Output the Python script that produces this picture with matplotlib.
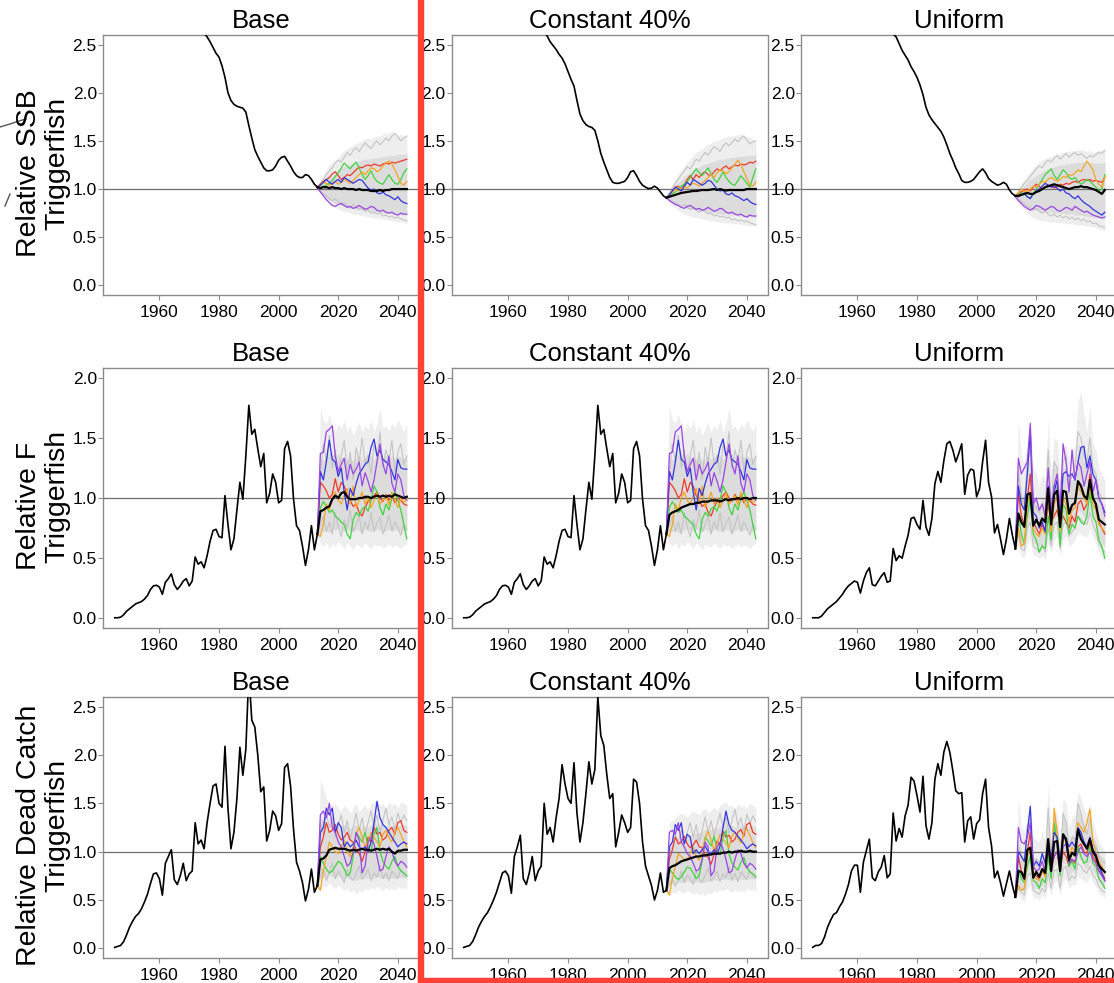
import matplotlib
matplotlib.use('Agg')
import matplotlib.pyplot as plt
from matplotlib import transforms
from matplotlib.lines import Line2D

plt.rcParams['font.family'] = ['Liberation Sans', 'DejaVu Sans']

# ---------------- axes / labels ----------------
hist_years = list(range(1945, 2014))
proj_years = list(range(2013, 2044))
col_titles = ['Base', 'Constant 40%', 'Uniform']
row_labels = [('Relative SSB', 'Triggerfish'),
              ('Relative F', 'Triggerfish'),
              ('Relative Dead Catch', 'Triggerfish')]
row_ylims = [(-0.1, 2.6), (-0.08, 2.08), (-0.1, 2.6)]
row_yticks = [[0, 0.5, 1.0, 1.5, 2.0, 2.5], [0, 0.5, 1.0, 1.5, 2.0], [0, 0.5, 1.0, 1.5, 2.0, 2.5]]
x_ticks = [1960, 1980, 2000, 2020, 2040]

# ---------------- SSB : Base ----------------
ssb_base_hist = [3.60, 3.58, 3.56, 3.54, 3.52, 3.50, 3.47, 3.44, 3.41, 3.38,
                 3.35, 3.31, 3.27, 3.23, 3.19, 3.15, 3.11, 3.07, 3.03, 2.99,
                 2.95, 2.91, 2.87, 2.83, 2.79, 2.76, 2.73, 2.70, 2.67, 2.64,
                 2.62, 2.58, 2.53, 2.47, 2.41, 2.37, 2.28, 2.16, 2.00, 1.92,
                 1.88, 1.86, 1.85, 1.84, 1.80, 1.66, 1.53, 1.41, 1.34, 1.28,
                 1.22, 1.19, 1.19, 1.20, 1.24, 1.30, 1.33, 1.34, 1.29, 1.24,
                 1.18, 1.14, 1.12, 1.12, 1.15, 1.14, 1.10, 1.05, 1.02]
ssb_base_med = [1.02, 1.01, 1.02, 1.02, 1.01, 1.02, 1.01, 1.01, 1.00, 1.01, 1.00, 1.00, 1.00, 0.99, 1.00, 0.99, 0.99, 0.99, 0.98, 0.98, 0.98, 0.99, 0.98, 0.99, 0.99, 1.00, 1.00, 1.00, 1.00, 1.00, 1.00]
ssb_base_red = [1.02, 1.05, 1.08, 1.10, 1.12, 1.16, 1.18, 1.14, 1.10, 1.12, 1.15, 1.14, 1.17, 1.20, 1.23, 1.22, 1.24, 1.25, 1.24, 1.26, 1.25, 1.24, 1.26, 1.27, 1.26, 1.28, 1.27, 1.28, 1.29, 1.30, 1.31]
ssb_base_green = [1.02, 1.02, 1.03, 1.04, 1.06, 1.09, 1.13, 1.17, 1.22, 1.27, 1.24, 1.21, 1.25, 1.28, 1.22, 1.15, 1.10, 1.14, 1.19, 1.12, 1.08, 1.06, 1.05, 1.10, 1.15, 1.10, 1.06, 1.05, 1.10, 1.17, 1.21]
ssb_base_orange = [1.02, 1.04, 1.07, 1.06, 1.04, 1.06, 1.08, 1.05, 1.07, 1.10, 1.08, 1.06, 1.09, 1.12, 1.15, 1.18, 1.15, 1.19, 1.22, 1.21, 1.18, 1.20, 1.24, 1.27, 1.29, 1.26, 1.20, 1.13, 1.06, 1.04, 1.08]
ssb_base_blue = [1.02, 1.04, 1.07, 1.10, 1.07, 1.05, 1.08, 1.10, 1.07, 1.12, 1.10, 1.08, 1.06, 1.08, 1.10, 1.09, 1.05, 1.01, 0.99, 1.00, 0.96, 0.95, 0.97, 0.94, 0.93, 0.91, 0.89, 0.92, 0.88, 0.86, 0.85]
ssb_base_purple = [1.01, 0.97, 0.93, 0.89, 0.86, 0.83, 0.82, 0.84, 0.85, 0.83, 0.81, 0.82, 0.80, 0.81, 0.83, 0.81, 0.79, 0.80, 0.82, 0.81, 0.78, 0.77, 0.78, 0.76, 0.75, 0.76, 0.74, 0.73, 0.75, 0.74, 0.74]
ssb_base_lo = [1.01, 0.96, 0.92, 0.89, 0.86, 0.83, 0.81, 0.79, 0.78, 0.77, 0.76, 0.75, 0.74, 0.74, 0.73, 0.72, 0.72, 0.71, 0.71, 0.70, 0.70, 0.69, 0.69, 0.68, 0.68, 0.67, 0.67, 0.66, 0.66, 0.65, 0.65]
ssb_base_hi = [1.03, 1.09, 1.15, 1.20, 1.25, 1.28, 1.30, 1.33, 1.37, 1.40, 1.42, 1.44, 1.46, 1.47, 1.49, 1.50, 1.52, 1.53, 1.52, 1.54, 1.55, 1.55, 1.57, 1.58, 1.58, 1.60, 1.58, 1.56, 1.57, 1.55, 1.56]
ssb_base_qlo = [1.01, 0.97, 0.94, 0.91, 0.89, 0.87, 0.85, 0.84, 0.83, 0.82, 0.81, 0.80, 0.80, 0.79, 0.79, 0.78, 0.78, 0.77, 0.77, 0.76, 0.76, 0.76, 0.75, 0.75, 0.75, 0.74, 0.74, 0.74, 0.73, 0.73, 0.73]
ssb_base_qhi = [1.03, 1.06, 1.09, 1.12, 1.14, 1.16, 1.18, 1.20, 1.22, 1.24, 1.25, 1.26, 1.27, 1.28, 1.29, 1.30, 1.31, 1.31, 1.32, 1.32, 1.33, 1.33, 1.34, 1.34, 1.35, 1.35, 1.35, 1.36, 1.36, 1.36, 1.37]
ssb_base_g1 = [1.02, 1.06, 1.10, 1.15, 1.19, 1.22, 1.27, 1.30, 1.28, 1.33, 1.38, 1.35, 1.40, 1.43, 1.39, 1.44, 1.48, 1.45, 1.42, 1.47, 1.50, 1.46, 1.49, 1.53, 1.50, 1.55, 1.58, 1.54, 1.50, 1.53, 1.55]
ssb_base_g2 = [1.01, 0.98, 0.95, 0.93, 0.90, 0.88, 0.90, 0.87, 0.85, 0.86, 0.83, 0.81, 0.84, 0.82, 0.79, 0.80, 0.77, 0.78, 0.75, 0.76, 0.74, 0.75, 0.72, 0.73, 0.71, 0.72, 0.70, 0.71, 0.69, 0.68, 0.67]

# ---------------- SSB : Constant 40% ----------------
ssb_const_hist = [3.50, 3.47, 3.44, 3.41, 3.38, 3.35, 3.32, 3.29, 3.26, 3.23,
                  3.20, 3.17, 3.14, 3.11, 3.08, 3.05, 3.01, 2.97, 2.93, 2.89,
                  2.85, 2.81, 2.77, 2.74, 2.71, 2.68, 2.65,
                  2.63, 2.59, 2.53, 2.49, 2.45, 2.40, 2.36, 2.30, 2.22, 2.14,
                  2.07, 1.92, 1.78, 1.71, 1.67, 1.65, 1.64, 1.61, 1.50, 1.37,
                  1.28, 1.20, 1.12, 1.07, 1.06, 1.06, 1.07, 1.08, 1.12, 1.18,
                  1.19, 1.14, 1.08, 1.04, 1.02, 1.005, 1.01, 1.03, 1.01, 0.97,
                  0.93, 0.91]
ssb_const_med = [0.91, 0.92, 0.93, 0.94, 0.95, 0.96, 0.965, 0.97, 0.975, 0.98, 0.98, 0.985, 0.99, 0.99, 0.99, 0.995, 1.00, 0.99, 1.00, 0.99, 0.985, 0.99, 0.99, 0.99, 0.99, 0.99, 0.99, 1.00, 1.00, 1.00, 1.00]
ssb_const_red = [0.91, 0.94, 0.98, 1.02, 1.03, 1.00, 1.05, 1.10, 1.14, 1.10, 1.15, 1.12, 1.16, 1.18, 1.15, 1.14, 1.18, 1.21, 1.19, 1.22, 1.24, 1.21, 1.23, 1.25, 1.24, 1.26, 1.25, 1.26, 1.28, 1.27, 1.29]
ssb_const_green = [0.91, 0.93, 0.95, 0.97, 1.00, 1.03, 1.05, 1.08, 1.12, 1.17, 1.21, 1.17, 1.14, 1.18, 1.22, 1.16, 1.10, 1.07, 1.12, 1.18, 1.12, 1.08, 1.05, 1.04, 1.09, 1.14, 1.10, 1.06, 1.02, 1.12, 1.21]
ssb_const_orange = [0.91, 0.94, 0.97, 1.00, 0.98, 1.01, 1.03, 1.01, 1.04, 1.06, 1.05, 1.03, 1.06, 1.09, 1.12, 1.15, 1.12, 1.17, 1.20, 1.19, 1.16, 1.18, 1.22, 1.26, 1.30, 1.25, 1.18, 1.11, 1.04, 1.03, 1.07]
ssb_const_blue = [0.91, 0.94, 0.98, 1.02, 1.00, 0.98, 1.03, 1.07, 1.04, 1.10, 1.08, 1.06, 1.04, 1.06, 1.09, 1.08, 1.04, 1.00, 0.98, 0.99, 0.95, 0.94, 0.96, 0.93, 0.92, 0.90, 0.88, 0.90, 0.87, 0.85, 0.84]
ssb_const_purple = [0.91, 0.88, 0.86, 0.84, 0.83, 0.81, 0.80, 0.82, 0.83, 0.81, 0.79, 0.80, 0.78, 0.79, 0.81, 0.79, 0.77, 0.78, 0.80, 0.79, 0.76, 0.75, 0.76, 0.74, 0.73, 0.74, 0.72, 0.71, 0.73, 0.72, 0.72]
ssb_const_lo = [0.90, 0.86, 0.83, 0.80, 0.78, 0.76, 0.74, 0.73, 0.72, 0.71, 0.70, 0.70, 0.69, 0.68, 0.68, 0.67, 0.67, 0.66, 0.66, 0.65, 0.65, 0.65, 0.64, 0.64, 0.64, 0.63, 0.63, 0.62, 0.62, 0.62, 0.61]
ssb_const_hi = [0.92, 0.99, 1.05, 1.11, 1.16, 1.20, 1.24, 1.28, 1.32, 1.35, 1.38, 1.40, 1.42, 1.44, 1.46, 1.48, 1.50, 1.50, 1.52, 1.53, 1.54, 1.55, 1.55, 1.56, 1.56, 1.57, 1.56, 1.55, 1.54, 1.52, 1.50]
ssb_const_qlo = [0.91, 0.89, 0.87, 0.85, 0.84, 0.82, 0.81, 0.80, 0.79, 0.79, 0.78, 0.77, 0.77, 0.76, 0.76, 0.76, 0.75, 0.75, 0.74, 0.74, 0.74, 0.73, 0.73, 0.73, 0.72, 0.72, 0.72, 0.71, 0.71, 0.71, 0.70]
ssb_const_qhi = [0.92, 0.96, 1.00, 1.04, 1.07, 1.10, 1.13, 1.15, 1.18, 1.20, 1.22, 1.23, 1.25, 1.26, 1.27, 1.28, 1.29, 1.30, 1.31, 1.31, 1.32, 1.32, 1.33, 1.33, 1.34, 1.34, 1.34, 1.35, 1.35, 1.35, 1.36]
ssb_const_g1 = [0.91, 0.96, 1.01, 1.06, 1.10, 1.15, 1.19, 1.23, 1.21, 1.26, 1.31, 1.29, 1.34, 1.38, 1.35, 1.40, 1.44, 1.42, 1.39, 1.45, 1.48, 1.45, 1.48, 1.52, 1.49, 1.53, 1.55, 1.51, 1.47, 1.49, 1.50]
ssb_const_g2 = [0.91, 0.89, 0.87, 0.86, 0.84, 0.82, 0.84, 0.81, 0.79, 0.80, 0.78, 0.76, 0.79, 0.77, 0.74, 0.75, 0.72, 0.73, 0.71, 0.72, 0.70, 0.71, 0.68, 0.69, 0.67, 0.68, 0.66, 0.67, 0.65, 0.64, 0.63]

# ---------------- SSB : Uniform ----------------
ssb_unif_hist = [3.50, 3.47, 3.44, 3.41, 3.38, 3.35, 3.32, 3.29, 3.26, 3.23,
                 3.20, 3.17, 3.14, 3.11, 3.08, 3.05, 3.01, 2.97, 2.93, 2.89,
                 2.85, 2.81, 2.77, 2.73, 2.69, 2.66,
                 2.63, 2.61, 2.58, 2.51, 2.44, 2.39, 2.34, 2.27, 2.22, 2.16,
                 2.08, 1.98, 1.85, 1.77, 1.72, 1.68, 1.64, 1.60, 1.54, 1.46,
                 1.37, 1.30, 1.22, 1.16, 1.09, 1.07, 1.07, 1.08, 1.10, 1.14,
                 1.18, 1.21, 1.17, 1.11, 1.08, 1.06, 1.04, 1.05, 1.07, 1.05,
                 0.99, 0.95, 0.93]
ssb_unif_med = [0.93, 0.93, 0.94, 0.95, 0.96, 0.95, 0.95, 0.97, 0.98, 1.00, 1.02, 1.03, 1.04, 1.05, 1.04, 1.03, 1.02, 1.01, 1.00, 1.01, 1.02, 1.02, 1.03, 1.02, 1.02, 1.01, 1.00, 0.99, 0.97, 0.95, 0.99]
ssb_unif_red = [0.93, 0.95, 0.97, 0.99, 1.00, 0.98, 1.02, 1.05, 1.03, 1.00, 1.02, 1.04, 1.03, 1.01, 1.03, 1.05, 1.04, 1.06, 1.05, 1.07, 1.08, 1.07, 1.09, 1.10, 1.09, 1.10, 1.08, 1.09, 1.08, 1.07, 1.12]
ssb_unif_green = [0.93, 0.94, 0.96, 0.95, 0.92, 0.91, 0.95, 1.00, 1.05, 1.10, 1.15, 1.18, 1.21, 1.14, 1.10, 1.15, 1.20, 1.17, 1.12, 1.10, 1.12, 1.08, 1.05, 1.07, 1.10, 1.08, 1.05, 1.02, 0.98, 1.00, 1.15]
ssb_unif_orange = [0.93, 0.96, 1.00, 0.98, 0.97, 1.00, 1.03, 1.02, 1.05, 1.08, 1.07, 1.10, 1.12, 1.10, 1.08, 1.10, 1.13, 1.12, 1.15, 1.14, 1.17, 1.20, 1.18, 1.24, 1.29, 1.25, 1.20, 1.10, 1.05, 1.02, 1.13]
ssb_unif_blue = [0.93, 0.92, 0.94, 0.96, 0.92, 0.90, 0.95, 0.98, 1.00, 1.03, 1.06, 1.04, 1.02, 1.03, 1.01, 0.98, 1.00, 0.96, 0.95, 0.92, 0.90, 0.93, 0.89, 0.86, 0.84, 0.82, 0.79, 0.77, 0.75, 0.73, 0.76]
ssb_unif_purple = [0.92, 0.88, 0.85, 0.82, 0.80, 0.78, 0.80, 0.83, 0.82, 0.80, 0.78, 0.80, 0.82, 0.81, 0.78, 0.77, 0.79, 0.81, 0.80, 0.78, 0.82, 0.80, 0.78, 0.76, 0.77, 0.75, 0.73, 0.72, 0.71, 0.70, 0.71]
ssb_unif_lo = [0.91, 0.86, 0.82, 0.78, 0.75, 0.72, 0.70, 0.69, 0.68, 0.67, 0.67, 0.66, 0.66, 0.66, 0.65, 0.65, 0.65, 0.64, 0.64, 0.64, 0.63, 0.63, 0.63, 0.62, 0.62, 0.61, 0.61, 0.60, 0.59, 0.58, 0.57]
ssb_unif_hi = [0.95, 1.00, 1.05, 1.10, 1.14, 1.18, 1.22, 1.25, 1.28, 1.30, 1.32, 1.33, 1.34, 1.35, 1.36, 1.37, 1.38, 1.39, 1.39, 1.40, 1.40, 1.41, 1.41, 1.40, 1.39, 1.40, 1.38, 1.39, 1.40, 1.41, 1.42]
ssb_unif_qlo = [0.92, 0.89, 0.86, 0.84, 0.82, 0.80, 0.79, 0.78, 0.77, 0.77, 0.76, 0.76, 0.76, 0.75, 0.75, 0.75, 0.75, 0.74, 0.74, 0.74, 0.73, 0.73, 0.73, 0.72, 0.72, 0.71, 0.71, 0.70, 0.70, 0.69, 0.69]
ssb_unif_qhi = [0.94, 0.98, 1.01, 1.04, 1.07, 1.10, 1.12, 1.14, 1.16, 1.18, 1.20, 1.21, 1.22, 1.23, 1.24, 1.25, 1.25, 1.26, 1.26, 1.27, 1.27, 1.28, 1.28, 1.28, 1.28, 1.28, 1.27, 1.27, 1.27, 1.27, 1.28]
ssb_unif_g1 = [0.93, 0.97, 1.02, 1.06, 1.09, 1.13, 1.17, 1.21, 1.24, 1.22, 1.27, 1.30, 1.28, 1.32, 1.35, 1.31, 1.34, 1.37, 1.33, 1.36, 1.38, 1.35, 1.37, 1.34, 1.32, 1.35, 1.33, 1.36, 1.38, 1.37, 1.40]
ssb_unif_g2 = [0.92, 0.90, 0.87, 0.85, 0.82, 0.80, 0.78, 0.80, 0.77, 0.75, 0.77, 0.74, 0.72, 0.74, 0.71, 0.73, 0.70, 0.72, 0.69, 0.71, 0.68, 0.70, 0.67, 0.69, 0.66, 0.67, 0.64, 0.65, 0.62, 0.61, 0.60]

# ---------------- F : Base and Constant 40% ----------------
f_hist = [0.005, 0.005, 0.01, 0.03, 0.06, 0.08, 0.10, 0.12, 0.13, 0.14,
          0.16, 0.19, 0.24, 0.27, 0.275,
          0.26, 0.20, 0.30, 0.33, 0.37, 0.28, 0.24, 0.27, 0.31, 0.33,
          0.27, 0.31, 0.51, 0.45, 0.47, 0.42, 0.52, 0.64, 0.73, 0.74,
          0.68, 0.67, 1.02, 0.78, 0.57, 0.66, 0.90, 1.13, 0.99, 1.35,
          1.77, 1.53, 1.57, 1.41, 1.26, 1.37, 0.96, 1.04, 1.20, 1.13,
          0.96, 0.98, 1.41, 1.47, 1.35, 0.99, 0.77, 0.73, 0.60, 0.44,
          0.57, 0.77, 0.57, 0.70]
f_base_med = [0.70, 0.89, 0.90, 0.92, 0.93, 0.99, 1.02, 1.00, 1.04, 1.05, 1.01, 0.99, 0.99, 0.99, 1.00, 1.00, 1.01, 1.01, 1.00, 1.01, 1.02, 1.01, 1.02, 1.01, 1.02, 1.01, 1.03, 1.02, 1.01, 1.00, 1.01]
f_const_med = [0.70, 0.86, 0.88, 0.89, 0.90, 0.92, 0.93, 0.94, 0.95, 0.95, 0.96, 0.96, 0.97, 0.97, 0.97, 0.98, 0.98, 0.98, 0.97, 0.98, 0.99, 0.98, 0.99, 0.99, 1.00, 0.99, 1.00, 1.00, 0.99, 1.00, 1.00]
f_purple = [0.70, 1.37, 1.38, 1.55, 1.57, 1.60, 1.35, 1.22, 1.28, 1.33, 1.15, 1.28, 1.20, 1.24, 1.30, 1.10, 1.21, 1.14, 1.05, 1.15, 1.30, 1.45, 1.28, 1.20, 1.35, 1.12, 1.05, 1.20, 1.15, 1.02, 0.98]
f_blue = [0.70, 1.22, 1.15, 1.30, 1.48, 1.32, 1.30, 1.18, 1.25, 1.05, 0.90, 1.08, 1.02, 1.12, 1.20, 1.24, 1.28, 1.30, 1.42, 1.49, 1.35, 1.40, 1.32, 1.30, 1.28, 1.22, 1.15, 1.32, 1.25, 1.24, 1.24]
f_red = [0.70, 1.13, 1.10, 1.06, 1.00, 1.03, 1.16, 1.05, 1.13, 1.10, 1.02, 0.98, 0.93, 0.95, 0.88, 0.85, 0.92, 0.97, 0.99, 1.02, 1.05, 1.00, 0.97, 1.03, 0.98, 1.02, 0.96, 1.00, 0.98, 0.95, 0.94]
f_green = [0.70, 0.92, 0.97, 0.93, 0.88, 0.90, 0.85, 0.83, 0.80, 0.78, 0.70, 0.66, 0.82, 0.88, 0.85, 0.91, 0.93, 0.89, 0.98, 1.10, 1.05, 0.92, 0.86, 0.95, 0.90, 1.00, 1.05, 0.98, 0.90, 0.78, 0.66]
f_orange = [0.70, 0.68, 0.78, 0.95, 0.90, 1.00, 1.05, 0.98, 0.95, 1.02, 1.08, 0.95, 1.10, 0.92, 0.98, 1.05, 0.95, 1.00, 0.92, 0.98, 1.04, 0.95, 0.98, 1.02, 0.94, 1.05, 0.98, 0.92, 1.00, 0.96, 1.00]
f_lo = [0.70, 0.62, 0.60, 0.63, 0.58, 0.62, 0.60, 0.64, 0.61, 0.58, 0.63, 0.60, 0.57, 0.62, 0.60, 0.59, 0.63, 0.60, 0.58, 0.62, 0.60, 0.61, 0.58, 0.60, 0.62, 0.59, 0.61, 0.60, 0.58, 0.61, 0.62]
f_hi = [0.70, 1.75, 1.65, 1.62, 1.70, 1.60, 1.55, 1.62, 1.58, 1.65, 1.55, 1.60, 1.52, 1.58, 1.63, 1.55, 1.60, 1.57, 1.65, 1.55, 1.62, 1.75, 1.58, 1.60, 1.55, 1.62, 1.58, 1.65, 1.60, 1.55, 1.62]
f_qlo = [0.70, 0.72, 0.72, 0.73, 0.71, 0.74, 0.73, 0.75, 0.73, 0.72, 0.74, 0.73, 0.72, 0.74, 0.73, 0.72, 0.74, 0.73, 0.72, 0.73, 0.74, 0.73, 0.72, 0.73, 0.74, 0.72, 0.73, 0.74, 0.72, 0.73, 0.73]
f_qhi = [0.70, 1.30, 1.32, 1.35, 1.38, 1.36, 1.34, 1.37, 1.33, 1.35, 1.32, 1.34, 1.31, 1.33, 1.36, 1.32, 1.34, 1.33, 1.36, 1.32, 1.35, 1.38, 1.33, 1.35, 1.32, 1.36, 1.33, 1.35, 1.34, 1.32, 1.35]
f_g1 = [0.70, 1.20, 1.45, 1.30, 1.52, 1.25, 1.40, 1.18, 1.35, 1.48, 1.22, 1.38, 1.15, 1.42, 1.30, 1.50, 1.28, 1.36, 1.20, 1.45, 1.33, 1.55, 1.25, 1.40, 1.30, 1.48, 1.22, 1.38, 1.45, 1.28, 1.35]
f_g2 = [0.70, 0.78, 0.85, 0.72, 0.80, 0.70, 0.88, 0.76, 0.68, 0.82, 0.75, 0.90, 0.72, 0.78, 0.85, 0.70, 0.80, 0.74, 0.88, 0.72, 0.79, 0.84, 0.70, 0.77, 0.86, 0.73, 0.80, 0.75, 0.69, 0.78, 0.74]

# ---------------- F : Uniform ----------------
f_unif_hist = [0.005, 0.005, 0.005, 0.02, 0.05, 0.08, 0.10, 0.12, 0.14, 0.17,
               0.20, 0.24, 0.27, 0.29, 0.31,
               0.30, 0.21, 0.31, 0.38, 0.42, 0.28, 0.27, 0.31, 0.35, 0.38,
               0.30, 0.31, 0.58, 0.48, 0.52, 0.50, 0.60, 0.69, 0.83, 0.84,
               0.78, 0.74, 0.98, 0.76, 0.69, 0.83, 1.12, 1.22, 1.13, 1.31,
               1.45, 1.47, 1.40, 1.30, 1.37, 1.45, 1.03, 1.19, 1.24, 1.23,
               1.01, 1.08, 1.30, 1.48, 1.13, 1.01, 0.71, 0.78, 0.66, 0.53,
               0.66, 0.83, 0.69, 0.58]
f_unif_med = [0.58, 0.87, 0.80, 0.76, 1.03, 1.04, 0.77, 0.82, 0.77, 0.83, 0.80, 1.08, 0.78, 1.03, 1.06, 0.76, 1.06, 1.05, 0.87, 0.94, 0.96, 1.14, 1.10, 1.02, 0.99, 1.15, 1.00, 0.95, 0.82, 0.80, 0.78]
f_unif_purple = [0.58, 1.33, 1.20, 1.25, 1.30, 1.62, 0.95, 1.00, 0.90, 0.95, 0.85, 1.25, 0.90, 1.10, 1.20, 0.90, 1.45, 1.30, 1.05, 1.40, 1.15, 1.30, 1.25, 1.10, 1.20, 1.30, 1.05, 1.15, 1.00, 0.95, 0.85]
f_unif_blue = [0.58, 1.10, 0.95, 0.90, 1.20, 1.55, 0.88, 0.85, 0.75, 0.80, 0.72, 1.10, 0.82, 1.05, 1.15, 0.85, 1.20, 1.22, 1.18, 1.20, 1.15, 1.30, 1.42, 1.43, 1.25, 1.35, 1.20, 1.15, 1.00, 0.95, 0.88]
f_unif_red = [0.58, 1.05, 0.85, 0.78, 1.00, 1.20, 0.80, 0.75, 0.70, 0.78, 0.72, 0.95, 0.80, 0.85, 0.90, 0.78, 0.85, 0.80, 0.75, 0.85, 0.80, 0.95, 0.98, 0.90, 0.95, 1.20, 1.00, 0.95, 0.80, 0.75, 0.70]
f_unif_green = [0.58, 0.88, 0.70, 0.62, 0.85, 1.00, 0.70, 0.65, 0.55, 0.60, 0.58, 0.85, 0.65, 1.10, 1.08, 0.60, 0.95, 0.90, 0.70, 0.78, 0.75, 0.85, 0.80, 0.78, 0.85, 1.05, 0.85, 0.80, 0.65, 0.60, 0.50]
f_unif_orange = [0.58, 0.75, 0.60, 0.62, 0.95, 1.05, 0.75, 0.70, 0.68, 0.75, 0.70, 1.00, 0.72, 0.95, 1.00, 0.72, 1.00, 0.95, 0.80, 0.90, 0.92, 1.10, 1.05, 1.00, 0.95, 1.10, 0.95, 0.90, 0.78, 0.75, 0.72]
f_unif_lo = [0.58, 0.60, 0.52, 0.50, 0.62, 0.65, 0.52, 0.52, 0.50, 0.52, 0.48, 0.62, 0.55, 0.65, 0.68, 0.52, 0.65, 0.68, 0.60, 0.62, 0.65, 0.72, 0.70, 0.68, 0.68, 0.75, 0.68, 0.62, 0.55, 0.50, 0.48]
f_unif_hi = [0.58, 1.65, 1.35, 1.30, 1.45, 1.62, 1.25, 1.20, 1.10, 1.20, 1.15, 1.65, 1.20, 1.50, 1.48, 1.15, 1.40, 1.45, 1.30, 1.40, 1.42, 1.80, 1.88, 1.70, 1.55, 1.76, 1.45, 1.40, 1.25, 1.20, 1.15]
f_unif_qlo = [0.58, 0.72, 0.62, 0.60, 0.80, 0.85, 0.62, 0.62, 0.60, 0.64, 0.60, 0.80, 0.64, 0.82, 0.85, 0.62, 0.82, 0.82, 0.70, 0.76, 0.78, 0.90, 0.88, 0.84, 0.82, 0.92, 0.82, 0.78, 0.66, 0.62, 0.60]
f_unif_qhi = [0.58, 1.30, 1.05, 1.00, 1.25, 1.35, 1.00, 0.98, 0.92, 1.00, 0.95, 1.30, 0.98, 1.25, 1.28, 0.95, 1.25, 1.25, 1.08, 1.15, 1.18, 1.45, 1.42, 1.30, 1.25, 1.42, 1.22, 1.15, 1.00, 0.95, 0.95]
f_unif_g1 = [0.58, 1.20, 1.00, 0.95, 1.30, 1.40, 0.95, 0.92, 0.88, 0.95, 0.90, 1.40, 0.92, 1.30, 1.25, 0.90, 1.30, 1.35, 1.05, 1.20, 1.25, 1.55, 1.50, 1.35, 1.30, 1.50, 1.25, 1.20, 1.05, 1.00, 1.00]
f_unif_g2 = [0.58, 0.70, 0.58, 0.56, 0.75, 0.80, 0.60, 0.58, 0.55, 0.62, 0.55, 0.75, 0.60, 0.78, 0.80, 0.58, 0.78, 0.80, 0.68, 0.72, 0.75, 0.85, 0.82, 0.80, 0.78, 0.88, 0.78, 0.72, 0.62, 0.58, 0.55]

# ---------------- Dead catch : Base ----------------
cb_hist = [0.01, 0.02, 0.03, 0.07, 0.14, 0.22, 0.28, 0.33, 0.36, 0.41,
           0.48, 0.56, 0.67, 0.77, 0.78,
           0.72, 0.55, 0.88, 0.95, 1.02, 0.71, 0.66, 0.75, 0.88, 0.70,
           0.77, 0.80, 1.30, 1.08, 1.12, 1.03, 1.30, 1.50, 1.68, 1.70,
           1.50, 1.46, 2.09, 1.45, 1.03, 1.20, 1.55, 2.08, 1.79, 2.06,
           2.85, 2.36, 2.29, 2.00, 1.62, 1.67, 1.11, 1.22, 1.42, 1.37,
           1.22, 1.29, 1.87, 1.91, 1.68, 1.23, 0.89, 0.80, 0.68, 0.49,
           0.61, 0.82, 0.58, 0.65]
cb_med = [0.65, 0.92, 0.93, 0.96, 1.02, 1.03, 1.04, 1.03, 1.03, 1.03, 1.02, 1.01, 1.02, 1.01, 1.02, 1.03, 1.02, 1.02, 1.01, 1.02, 1.03, 1.02, 1.03, 1.02, 1.03, 1.00, 0.98, 1.01, 1.01, 1.02, 1.02]
cb_purple = [0.65, 1.38, 1.42, 1.35, 1.50, 1.25, 1.20, 1.10, 1.05, 0.95, 0.85, 0.88, 1.00, 1.20, 1.12, 0.78, 0.85, 1.10, 1.15, 1.08, 0.95, 0.80, 0.82, 0.95, 1.05, 1.00, 0.90, 0.85, 0.90, 0.88, 0.84]
cb_blue = [0.65, 1.20, 1.25, 1.45, 1.38, 1.45, 1.20, 1.30, 1.25, 1.05, 1.10, 1.05, 1.08, 1.12, 1.05, 1.02, 1.05, 1.00, 1.10, 1.30, 1.52, 1.35, 1.28, 1.25, 1.20, 1.15, 1.10, 1.05, 1.08, 1.10, 1.08]
cb_red = [0.65, 1.05, 1.15, 1.30, 1.20, 1.22, 1.28, 1.18, 1.12, 1.15, 1.20, 1.12, 1.10, 1.02, 0.98, 0.90, 1.00, 1.15, 1.10, 1.25, 1.18, 1.20, 1.12, 1.15, 1.22, 1.25, 1.18, 1.30, 1.32, 1.22, 1.20]
cb_green = [0.65, 0.95, 0.88, 0.82, 0.78, 0.80, 0.85, 0.90, 0.88, 0.82, 0.75, 0.78, 0.95, 1.20, 1.15, 1.10, 1.20, 1.05, 1.00, 1.18, 1.25, 1.00, 0.90, 0.85, 0.82, 0.90, 0.95, 0.85, 0.80, 0.78, 0.75]
cb_orange = [0.65, 0.60, 0.80, 0.95, 1.10, 1.05, 1.00, 0.98, 1.05, 1.12, 1.00, 0.95, 1.05, 1.18, 1.25, 1.15, 1.05, 1.10, 1.20, 1.15, 1.10, 1.05, 1.18, 1.22, 1.15, 1.10, 1.20, 1.25, 1.18, 1.10, 1.05]
cb_lo = [0.65, 0.62, 0.65, 0.63, 0.68, 0.64, 0.62, 0.66, 0.63, 0.60, 0.62, 0.58, 0.60, 0.56, 0.60, 0.58, 0.62, 0.60, 0.63, 0.61, 0.64, 0.62, 0.60, 0.63, 0.61, 0.62, 0.60, 0.64, 0.62, 0.63, 0.61]
cb_hi = [0.65, 1.75, 1.65, 1.55, 1.50, 1.48, 1.50, 1.45, 1.42, 1.48, 1.45, 1.40, 1.45, 1.50, 1.42, 1.45, 1.48, 1.43, 1.50, 1.52, 1.55, 1.48, 1.50, 1.45, 1.52, 1.48, 1.50, 1.45, 1.52, 1.50, 1.48]
cb_qlo = [0.65, 0.72, 0.74, 0.73, 0.76, 0.74, 0.73, 0.75, 0.73, 0.72, 0.73, 0.71, 0.72, 0.70, 0.72, 0.71, 0.73, 0.72, 0.74, 0.72, 0.74, 0.73, 0.72, 0.73, 0.72, 0.73, 0.72, 0.74, 0.73, 0.73, 0.72]
cb_qhi = [0.65, 1.35, 1.32, 1.30, 1.28, 1.27, 1.28, 1.26, 1.25, 1.27, 1.26, 1.24, 1.26, 1.28, 1.25, 1.26, 1.27, 1.25, 1.28, 1.29, 1.30, 1.27, 1.28, 1.26, 1.29, 1.27, 1.28, 1.26, 1.29, 1.28, 1.27]
cb_g1 = [0.65, 1.30, 1.18, 1.40, 1.25, 1.35, 1.15, 1.28, 1.38, 1.20, 1.32, 1.12, 1.25, 1.40, 1.22, 1.35, 1.18, 1.30, 1.42, 1.25, 1.38, 1.20, 1.33, 1.45, 1.28, 1.36, 1.22, 1.40, 1.30, 1.38, 1.32]
cb_g2 = [0.65, 0.75, 0.82, 0.70, 0.78, 0.88, 0.72, 0.80, 0.75, 0.68, 0.82, 0.74, 0.70, 0.78, 0.85, 0.72, 0.76, 0.82, 0.70, 0.78, 0.74, 0.86, 0.72, 0.78, 0.70, 0.80, 0.76, 0.72, 0.82, 0.75, 0.74]

# ---------------- Dead catch : Constant 40% ----------------
cc_hist = [0.01, 0.02, 0.03, 0.07, 0.14, 0.22, 0.28, 0.33, 0.37, 0.43,
           0.50, 0.58, 0.68, 0.78, 0.80,
           0.75, 0.57, 0.95, 1.05, 1.17, 0.72, 0.66, 0.78, 0.95, 0.70,
           0.80, 0.85, 1.50, 1.18, 1.25, 1.10, 1.35, 1.55, 1.90, 1.70,
           1.55, 1.50, 1.92, 1.40, 1.10, 1.30, 1.60, 1.93, 1.70, 1.85,
           2.60, 2.20, 2.10, 1.80, 1.55, 1.60, 1.05, 1.20, 1.38, 1.30,
           1.20, 1.25, 1.75, 1.72, 1.50, 1.10, 0.85, 0.75, 0.65, 0.50,
           0.60, 0.78, 0.58, 0.60]
cc_med = [0.60, 0.83, 0.85, 0.86, 0.88, 0.90, 0.91, 0.92, 0.93, 0.94, 0.95, 0.95, 0.96, 0.96, 0.97, 0.97, 0.98, 0.98, 0.98, 0.99, 0.99, 1.00, 0.99, 1.00, 1.00, 1.01, 1.00, 1.00, 1.01, 1.00, 1.00]
cc_purple = [0.60, 1.20, 1.22, 1.18, 1.30, 1.10, 1.05, 0.98, 0.95, 0.88, 0.80, 0.82, 0.92, 1.10, 1.05, 0.75, 0.80, 1.05, 1.10, 1.03, 0.92, 0.78, 0.80, 0.92, 1.02, 0.98, 0.88, 0.83, 0.88, 0.86, 0.82]
cc_blue = [0.60, 1.05, 1.10, 1.28, 1.22, 1.30, 1.08, 1.18, 1.15, 0.98, 1.02, 0.98, 1.02, 1.06, 1.00, 0.98, 1.02, 0.97, 1.06, 1.25, 1.42, 1.28, 1.22, 1.20, 1.16, 1.12, 1.08, 1.03, 1.06, 1.08, 1.06]
cc_red = [0.60, 0.92, 1.02, 1.15, 1.08, 1.10, 1.16, 1.08, 1.04, 1.07, 1.12, 1.05, 1.04, 0.97, 0.94, 0.87, 0.97, 1.11, 1.07, 1.21, 1.15, 1.17, 1.10, 1.13, 1.20, 1.23, 1.16, 1.28, 1.30, 1.20, 1.18]
cc_green = [0.60, 0.82, 0.78, 0.74, 0.71, 0.74, 0.79, 0.84, 0.83, 0.78, 0.72, 0.75, 0.91, 1.15, 1.11, 1.06, 1.16, 1.02, 0.97, 1.15, 1.22, 0.98, 0.88, 0.84, 0.81, 0.89, 0.94, 0.84, 0.79, 0.77, 0.74]
cc_orange = [0.60, 0.55, 0.72, 0.85, 0.98, 0.95, 0.92, 0.91, 0.98, 1.05, 0.95, 0.91, 1.01, 1.14, 1.21, 1.12, 1.02, 1.08, 1.18, 1.13, 1.09, 1.04, 1.16, 1.20, 1.14, 1.09, 1.19, 1.24, 1.17, 1.09, 1.04]
cc_lo = [0.60, 0.55, 0.58, 0.57, 0.60, 0.58, 0.57, 0.60, 0.58, 0.56, 0.58, 0.55, 0.57, 0.54, 0.58, 0.56, 0.60, 0.58, 0.61, 0.59, 0.62, 0.60, 0.58, 0.61, 0.59, 0.60, 0.58, 0.62, 0.60, 0.61, 0.59]
cc_hi = [0.60, 1.30, 1.32, 1.35, 1.38, 1.40, 1.38, 1.36, 1.40, 1.42, 1.40, 1.38, 1.42, 1.45, 1.40, 1.43, 1.46, 1.42, 1.48, 1.50, 1.52, 1.46, 1.48, 1.44, 1.50, 1.46, 1.48, 1.44, 1.50, 1.48, 1.46]
cc_qlo = [0.60, 0.65, 0.67, 0.67, 0.69, 0.68, 0.68, 0.70, 0.69, 0.68, 0.69, 0.68, 0.69, 0.68, 0.70, 0.69, 0.71, 0.70, 0.72, 0.71, 0.72, 0.71, 0.70, 0.72, 0.71, 0.72, 0.71, 0.73, 0.72, 0.72, 0.71]
cc_qhi = [0.60, 1.05, 1.08, 1.10, 1.12, 1.14, 1.15, 1.16, 1.18, 1.19, 1.19, 1.20, 1.21, 1.23, 1.22, 1.23, 1.25, 1.24, 1.26, 1.27, 1.28, 1.26, 1.27, 1.25, 1.28, 1.26, 1.27, 1.25, 1.28, 1.27, 1.26]
cc_g1 = [0.60, 1.00, 1.05, 1.18, 1.10, 1.22, 1.08, 1.20, 1.30, 1.15, 1.28, 1.10, 1.22, 1.36, 1.20, 1.32, 1.16, 1.28, 1.40, 1.24, 1.36, 1.19, 1.32, 1.44, 1.27, 1.35, 1.21, 1.39, 1.29, 1.37, 1.31]
cc_g2 = [0.60, 0.66, 0.72, 0.64, 0.70, 0.80, 0.68, 0.76, 0.72, 0.66, 0.80, 0.72, 0.68, 0.76, 0.83, 0.70, 0.74, 0.80, 0.69, 0.77, 0.73, 0.85, 0.71, 0.77, 0.69, 0.79, 0.75, 0.71, 0.81, 0.74, 0.73]

# ---------------- Dead catch : Uniform ----------------
cu_hist = [0.01, 0.03, 0.03, 0.05, 0.12, 0.22, 0.29, 0.35, 0.37, 0.43,
           0.48, 0.56, 0.66, 0.80, 0.86,
           0.86, 0.58, 0.89, 1.01, 1.13, 0.73, 0.70, 0.79, 0.84, 0.96,
           0.73, 0.77, 1.40, 1.11, 1.24, 1.15, 1.37, 1.48, 1.77, 1.73,
           1.58, 1.41, 1.78, 1.27, 1.13, 1.30, 1.75, 1.91, 1.79, 2.03,
           2.14, 2.03, 1.84, 1.63, 1.60, 1.61, 1.10, 1.32, 1.36, 1.13,
           1.29, 1.33, 1.60, 1.75, 1.25, 1.06, 0.73, 0.80, 0.68, 0.54,
           0.67, 0.80, 0.65, 0.53]
cu_med = [0.53, 0.80, 0.79, 0.72, 1.02, 1.04, 0.73, 0.79, 0.74, 0.82, 0.78, 1.13, 0.80, 1.10, 1.11, 0.80, 1.18, 1.13, 0.91, 0.99, 0.96, 1.23, 1.13, 1.08, 1.03, 1.13, 1.00, 0.95, 0.86, 0.82, 0.79]
cu_purple = [0.53, 1.25, 1.10, 1.08, 1.15, 1.30, 0.85, 0.80, 0.82, 0.90, 0.78, 1.05, 0.85, 0.95, 1.00, 0.82, 1.05, 1.08, 0.88, 0.92, 0.90, 1.00, 1.05, 0.98, 0.95, 1.00, 0.92, 0.88, 0.80, 0.75, 0.70]
cu_blue = [0.53, 1.00, 0.95, 0.90, 1.20, 1.47, 0.85, 0.90, 0.85, 0.98, 0.88, 1.10, 0.92, 1.20, 1.15, 0.90, 1.15, 1.12, 1.05, 1.10, 1.05, 1.25, 1.20, 1.10, 1.05, 1.15, 1.02, 0.98, 0.85, 0.78, 0.70]
cu_red = [0.53, 0.95, 0.80, 0.75, 1.00, 1.20, 0.78, 0.75, 0.72, 0.80, 0.75, 1.00, 0.80, 0.95, 1.00, 0.80, 1.00, 0.95, 0.85, 0.92, 0.88, 1.05, 1.08, 1.00, 0.98, 1.10, 0.95, 0.90, 0.80, 0.78, 0.72]
cu_green = [0.53, 0.82, 0.72, 0.68, 0.85, 0.95, 0.70, 0.68, 0.62, 0.72, 0.68, 0.95, 0.72, 1.30, 1.10, 0.75, 1.15, 1.12, 0.85, 0.90, 0.82, 1.05, 0.95, 0.88, 0.90, 1.05, 0.88, 0.85, 0.72, 0.68, 0.62]
cu_orange = [0.53, 0.65, 0.60, 0.62, 0.95, 1.05, 0.75, 0.72, 0.70, 0.80, 0.74, 1.10, 0.82, 1.45, 1.20, 0.85, 1.15, 1.10, 0.95, 1.05, 1.00, 1.30, 1.25, 1.20, 1.30, 1.44, 1.10, 1.00, 0.90, 0.85, 0.78]
cu_lo = [0.53, 0.55, 0.50, 0.48, 0.62, 0.65, 0.52, 0.52, 0.50, 0.55, 0.52, 0.65, 0.55, 0.68, 0.70, 0.55, 0.70, 0.72, 0.62, 0.66, 0.65, 0.75, 0.72, 0.70, 0.68, 0.75, 0.68, 0.64, 0.58, 0.55, 0.52]
cu_hi = [0.53, 1.55, 1.25, 1.20, 1.35, 1.50, 1.15, 1.12, 1.10, 1.20, 1.12, 1.68, 1.18, 1.45, 1.40, 1.12, 1.55, 1.50, 1.25, 1.35, 1.38, 1.62, 1.55, 1.45, 1.40, 1.50, 1.30, 1.20, 1.10, 1.05, 1.00]
cu_qlo = [0.53, 0.65, 0.60, 0.58, 0.78, 0.82, 0.62, 0.62, 0.60, 0.66, 0.62, 0.82, 0.66, 0.85, 0.88, 0.66, 0.88, 0.88, 0.74, 0.80, 0.78, 0.95, 0.90, 0.85, 0.82, 0.90, 0.80, 0.76, 0.68, 0.65, 0.62]
cu_qhi = [0.53, 1.15, 1.00, 0.95, 1.20, 1.28, 0.92, 0.95, 0.90, 1.00, 0.94, 1.35, 0.98, 1.30, 1.28, 0.96, 1.38, 1.32, 1.10, 1.18, 1.15, 1.45, 1.38, 1.28, 1.22, 1.32, 1.15, 1.10, 0.98, 0.95, 0.92]
cu_g1 = [0.53, 1.05, 0.95, 0.88, 1.25, 1.35, 0.90, 0.92, 0.85, 0.98, 0.90, 1.45, 0.95, 1.35, 1.25, 0.92, 1.40, 1.30, 1.05, 1.15, 1.12, 1.50, 1.40, 1.25, 1.18, 1.35, 1.10, 1.05, 0.95, 0.90, 0.88]
cu_g2 = [0.53, 0.62, 0.58, 0.55, 0.75, 0.78, 0.60, 0.58, 0.56, 0.62, 0.58, 0.78, 0.62, 0.80, 0.82, 0.62, 0.82, 0.85, 0.70, 0.75, 0.72, 0.88, 0.85, 0.80, 0.78, 0.85, 0.76, 0.72, 0.64, 0.60, 0.58]

# ---------------- styles ----------------
line_colors = ['#f03a2a', '#3fd43f', '#f5a623', '#3434e0', '#9b45e4']  # red, green, orange, blue, purple
band_outer = '#eeeeee'
band_inner = '#dcdcdc'
grey_line = '#c4c4c4'
ref_color = '#6e6e6e'
frame_color = '#8c8c8c'


def panel(hist, med, red, green, orange, blue, purple, lo, hi, qlo, qhi, g1, g2):
    return dict(hist=hist, med=med, lines=[red, green, orange, blue, purple],
                lo=lo, hi=hi, qlo=qlo, qhi=qhi, grey=[g1, g2])


panels = [
    [panel(ssb_base_hist, ssb_base_med, ssb_base_red, ssb_base_green, ssb_base_orange, ssb_base_blue, ssb_base_purple,
           ssb_base_lo, ssb_base_hi, ssb_base_qlo, ssb_base_qhi, ssb_base_g1, ssb_base_g2),
     panel(ssb_const_hist, ssb_const_med, ssb_const_red, ssb_const_green, ssb_const_orange, ssb_const_blue, ssb_const_purple,
           ssb_const_lo, ssb_const_hi, ssb_const_qlo, ssb_const_qhi, ssb_const_g1, ssb_const_g2),
     panel(ssb_unif_hist, ssb_unif_med, ssb_unif_red, ssb_unif_green, ssb_unif_orange, ssb_unif_blue, ssb_unif_purple,
           ssb_unif_lo, ssb_unif_hi, ssb_unif_qlo, ssb_unif_qhi, ssb_unif_g1, ssb_unif_g2)],
    [panel(f_hist, f_base_med, f_red, f_green, f_orange, f_blue, f_purple,
           f_lo, f_hi, f_qlo, f_qhi, f_g1, f_g2),
     panel(f_hist, f_const_med, f_red, f_green, f_orange, f_blue, f_purple,
           f_lo, f_hi, f_qlo, f_qhi, f_g1, f_g2),
     panel(f_unif_hist, f_unif_med, f_unif_red, f_unif_green, f_unif_orange, f_unif_blue, f_unif_purple,
           f_unif_lo, f_unif_hi, f_unif_qlo, f_unif_qhi, f_unif_g1, f_unif_g2)],
    [panel(cb_hist, cb_med, cb_red, cb_green, cb_orange, cb_blue, cb_purple,
           cb_lo, cb_hi, cb_qlo, cb_qhi, cb_g1, cb_g2),
     panel(cc_hist, cc_med, cc_red, cc_green, cc_orange, cc_blue, cc_purple,
           cc_lo, cc_hi, cc_qlo, cc_qhi, cc_g1, cc_g2),
     panel(cu_hist, cu_med, cu_red, cu_green, cu_orange, cu_blue, cu_purple,
           cu_lo, cu_hi, cu_qlo, cu_qhi, cu_g1, cu_g2)],
]

# ---------------- figure ----------------
W, H = 1114, 983
fig = plt.figure(figsize=(W / 100, H / 100), dpi=100)
fig.patch.set_facecolor('white')

col_left = [103, 452, 801]
ax_w = 315.5
row_top = [35, 368, 697]
row_bot = [295, 628, 958]

for r in range(3):
    for c in range(3):
        p = panels[r][c]
        l = col_left[c]
        t, b = row_top[r], row_bot[r]
        ax = fig.add_axes([l / W, 1 - b / H, ax_w / W, (b - t) / H])
        ax.fill_between(proj_years, p['lo'], p['hi'], color=band_outer, lw=0, zorder=1)
        ax.fill_between(proj_years, p['qlo'], p['qhi'], color=band_inner, lw=0, zorder=1.1)
        for g in p['grey']:
            ax.plot(proj_years, g, color=grey_line, lw=0.8, zorder=1.2)
        ext = (col_left[c + 1] - l) / ax_w if c < 2 else 1.2
        ax.plot([0, ext], [1, 1], transform=transforms.blended_transform_factory(ax.transAxes, ax.transData),
                color=ref_color, lw=0.9, clip_on=False, zorder=1.5)
        for vals, colr in zip(p['lines'], line_colors):
            ax.plot(proj_years, vals, color=colr, lw=0.9, zorder=2)
        ax.plot(proj_years, p['med'], color='black', lw=1.6, zorder=3)
        ax.plot(hist_years, p['hist'], color='black', lw=1.2, zorder=3)

        ax.set_xlim(1941.08, 2046.92)
        ax.set_ylim(*row_ylims[r])
        ax.set_xticks(x_ticks)
        ax.set_xticklabels([str(v) for v in x_ticks])
        ax.set_yticks(row_yticks[r])
        ax.set_yticklabels(['%.1f' % v for v in row_yticks[r]])
        for sp in ax.spines.values():
            sp.set_color(frame_color)
            sp.set_linewidth(1.0)
        ax.tick_params(axis='both', direction='out', length=3.5, width=0.8, color=frame_color,
                       labelsize=12.5, labelcolor='black')
        ax.tick_params(axis='x', pad=3.5)
        ax.tick_params(axis='y', pad=1.0)
        ax.set_title(col_titles[c], fontsize=18.5, pad=5)

    ymid = (row_top[r] + row_bot[r]) / 2
    fig.text(29 / W, 1 - (ymid + 8) / H, row_labels[r][0], rotation=90, fontsize=20.5, ha='center', va='center')
    fig.text(57 / W, 1 - (ymid - 2) / H, row_labels[r][1], rotation=90, fontsize=20.5, ha='center', va='center')

# stray annotation strokes at top-left
fig.add_artist(Line2D([0, 10 / W, 19 / W, 26 / W], [1 - 127 / H, 1 - 124 / H, 1 - 121 / H, 1 - 119 / H],
                      color='#555555', lw=1.0))
fig.add_artist(Line2D([10 / W, 5 / W], [1 - 194 / H, 1 - 206 / H], color='#555555', lw=1.0))

# red highlight rectangle
red = '#ff4136'
fig.add_artist(Line2D([420.5 / W, 420.5 / W], [2.5 / H, 1.02], color=red, lw=4.6, solid_capstyle='projecting'))
fig.add_artist(Line2D([420.5 / W, 1.02], [2.5 / H, 2.5 / H], color=red, lw=4.6, solid_capstyle='projecting'))

fig.savefig('out.png', dpi=100, facecolor='white')
